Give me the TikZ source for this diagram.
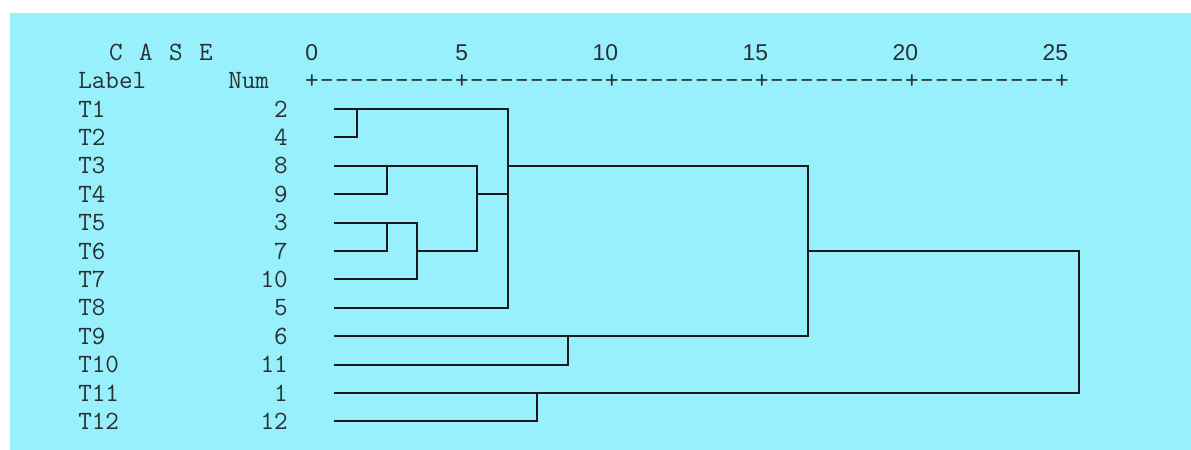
\documentclass[tikz,border=0pt]{standalone}
\usepackage{fontspec}
\setsansfont{Liberation Sans}
\usetikzlibrary{positioning}
\definecolor{screen}{RGB}{152,240,252}
\definecolor{ink}{RGB}{40,48,50}

\begin{document}
\begin{tikzpicture}[x=0.02cm, y=-0.02cm,
    every node/.style={inner sep=0pt, text=ink},
    mono/.style={font=\ttfamily\fontsize{15}{18}\selectfont},
    axnum/.style={font=\sffamily\fontsize{13}{16}\selectfont, anchor=base east},
    link/.style={line width=1.1pt, black!90}]
    \useasboundingbox (0,0) rectangle (1191,450);
    \fill[screen] (10,13) rectangle (1191,450);

    % header lines
    \foreach \c [count=\i] in {C,A,S,E}
      \node[mono, anchor=base] (case\i) at (86+30*\i, 60) {\c};
    \foreach \v [count=\i from 0] in {0,5,...,25}
      \node[axnum] (tick\i) at (318.4+150*\i, 60) {\v};
    \node[mono, anchor=base west] (lab) at (78, 88) {Label};
    \node[mono, anchor=base west] (num) at (228, 88) {Num};
    \foreach \t in {0,...,5}
      \node[mono, anchor=base] (plus\t) at (312+150*\t, 88) {+};
    \foreach \t in {0,...,4}
      \foreach \d in {1,...,9}
        \node[mono, anchor=base] (dash\t\d) at (312+150*\t+15*\d, 88) {-};

    % cases
    \foreach \n [count=\i] in {2,4,8,9,3,7,10,5,6,11,1,12} {
      \node[mono, anchor=base west] (t\i) at (78, 88.6+28.4*\i) {T\i};
      \node[mono, anchor=base east] (n\i) at (288, 88.6+28.4*\i) {\n};
      \coordinate (l\i) at (334, 80.6+28.4*\i);
    }

    % joins
    \coordinate (ja) at (357,0 |- l1);
    \coordinate (jb) at (387,0 |- l3);
    \coordinate (jc) at (387,0 |- l5);
    \coordinate (jd) at (417,0 |- l6);
    \coordinate (je) at (477,0 |- l4);
    \coordinate (jf) at (508,0 |- l3);
    \coordinate (jg) at (568,0 |- l9);
    \coordinate (jh) at (808,0 |- l6);
    \coordinate (jk) at (537,0 |- l11);
    \coordinate (jm) at (1079,0 |- l6);

    \draw[link] (l2) -| (ja);
    \draw[link] (l4) -| (jb);
    \draw[link] (l6) -| (jc);
    \draw[link] (l5) -| (jd) |- (l7);
    \draw[link] (l3) -| (je |- jd) -- (jd);
    \draw[link] (je) -- (je -| jf);
    \draw[link] (l1) -| (jf |- l8) -- (l8);
    \draw[link] (jf) -| (jh |- l9) -- (l9);
    \draw[link] (l10) -| (jg);
    \draw[link] (l12) -| (jk);
    \draw[link] (jh) -- (jm) |- (l11);
\end{tikzpicture}
\end{document}
